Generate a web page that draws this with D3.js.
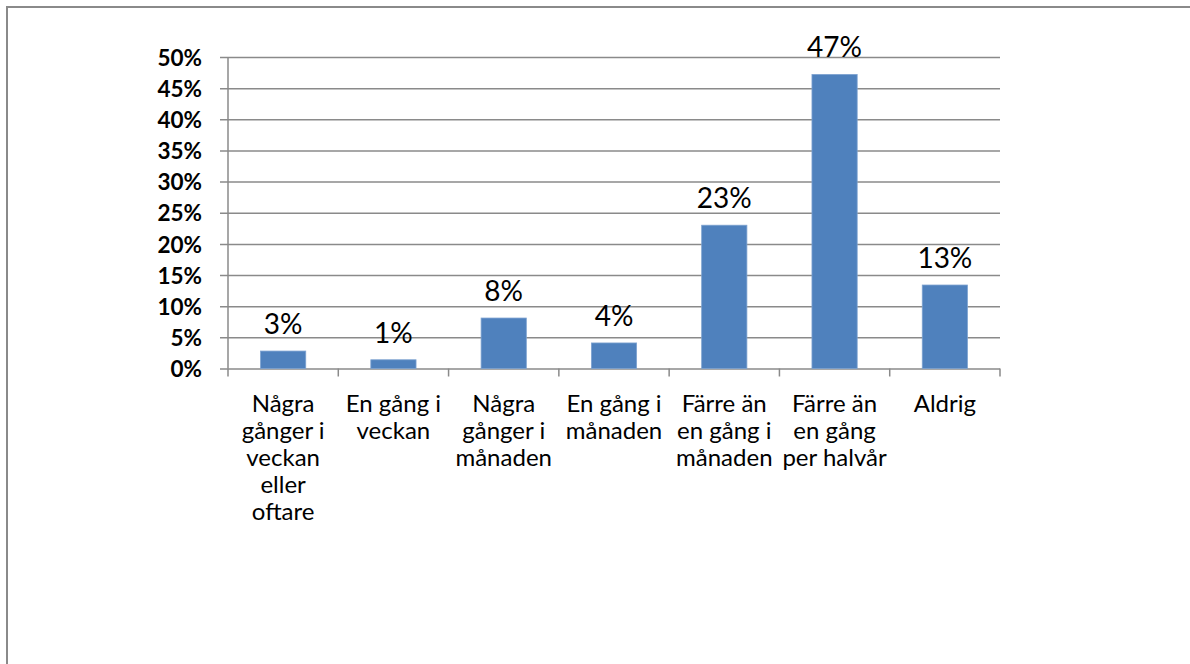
<!DOCTYPE html>
<html>
<head>
<meta charset="utf-8">
<script src="https://cdn.jsdelivr.net/npm/d3@7"></script>
<style>
  body { margin: 0; background: #fff; }
  text { font-family: Lato, "Open Sans", sans-serif; fill: #000; }
</style>
</head>
<body>
<div id="chart"></div>
<script>
// chart data
let categories = ["c1", "c2", "c3", "c4", "c5", "c6", "c7"];
let categoryLabels = [
  ["Några", "gånger i", "veckan", "eller", "oftare"],
  ["En gång i", "veckan"],
  ["Några", "gånger i", "månaden"],
  ["En gång i", "månaden"],
  ["Färre än", "en gång i", "månaden"],
  ["Färre än", "en gång", "per halvår"],
  ["Aldrig"]
];
let values = [0.028, 0.014, 0.081, 0.041, 0.230, 0.472, 0.134];
let valueLabels = ["3%", "1%", "8%", "4%", "23%", "47%", "13%"];
let yTicks = [0, 0.05, 0.10, 0.15, 0.20, 0.25, 0.30, 0.35, 0.40, 0.45, 0.50];

let W = 1190, H = 664;
let margin = {top: 57, left: 228},
    width = 1000 - 228,
    height = 368.5 - 57;

let root = d3.select("#chart").append("svg")
  .attr("width", W)
  .attr("height", H);

// outer frame (only top and left visible in the picture)
root.append("path")
  .attr("d", "M7,664 L7,7 L1190,7")
  .attr("fill", "none")
  .attr("stroke", "#8a8a8a")
  .attr("stroke-width", 2);

let svg = root.append("g")
  .attr("transform", "translate(" + margin.left + "," + margin.top + ")");

let x = d3.scaleBand()
  .domain(categories)
  .range([0, width])
  .paddingInner(0.59)
  .paddingOuter(0.295);

let y = d3.scaleLinear()
  .domain([0, 0.5])
  .range([height, 0]);

// gridlines + y axis
let yAxis = svg.append("g")
  .call(d3.axisLeft(y)
    .tickValues(yTicks)
    .tickSize(-width - 8)
    .tickPadding(18)
    .tickFormat(d3.format(".0%")))
  .attr("transform", "translate(-8,0)");
yAxis.select(".domain").remove();
yAxis.selectAll(".tick line")
  .attr("stroke", "#8a8a8a")
  .attr("stroke-width", 1.5);
yAxis.selectAll(".tick text")
  .style("font-size", "22.5px")
  .style("font-weight", "bold")
  .attr("dy", "0.36em");

// vertical axis line
svg.append("line")
  .attr("x1", 0).attr("x2", 0)
  .attr("y1", 0).attr("y2", height)
  .attr("stroke", "#8a8a8a")
  .attr("stroke-width", 1.5);

// category boundary ticks on x axis
let step = x.step();
svg.append("g")
  .selectAll("line")
  .data(d3.range(categories.length + 1))
  .enter().append("line")
    .attr("x1", d => d * step)
    .attr("x2", d => d * step)
    .attr("y1", height)
    .attr("y2", height + 8)
    .attr("stroke", "#8a8a8a")
    .attr("stroke-width", 1.5);

// bars
svg.append("g")
  .selectAll("rect")
  .data(values)
  .enter().append("rect")
    .attr("x", (d, i) => x(categories[i]))
    .attr("y", d => y(d))
    .attr("width", x.bandwidth())
    .attr("height", d => height - y(d))
    .attr("fill", "#4f81bd")
    .attr("stroke", "#7da2d0")
    .attr("stroke-width", 0.8);

// value labels
svg.append("g")
  .selectAll("text")
  .data(values)
  .enter().append("text")
    .attr("x", (d, i) => x(categories[i]) + x.bandwidth() / 2)
    .attr("y", d => y(d) - 17)
    .attr("text-anchor", "middle")
    .style("font-size", "28px")
    .text((d, i) => valueLabels[i]);

// category labels
let cat = svg.append("g")
  .selectAll("text")
  .data(categoryLabels)
  .enter().append("text")
    .attr("x", (d, i) => x(categories[i]) + x.bandwidth() / 2)
    .attr("y", height + 43)
    .attr("text-anchor", "middle")
    .style("font-size", "24px");
cat.selectAll("tspan")
  .data(d => d)
  .enter().append("tspan")
    .attr("x", function () { return this.parentNode.getAttribute("x"); })
    .attr("dy", (d, i) => i === 0 ? 0 : 27)
    .text(d => d);
</script>
</body>
</html>
